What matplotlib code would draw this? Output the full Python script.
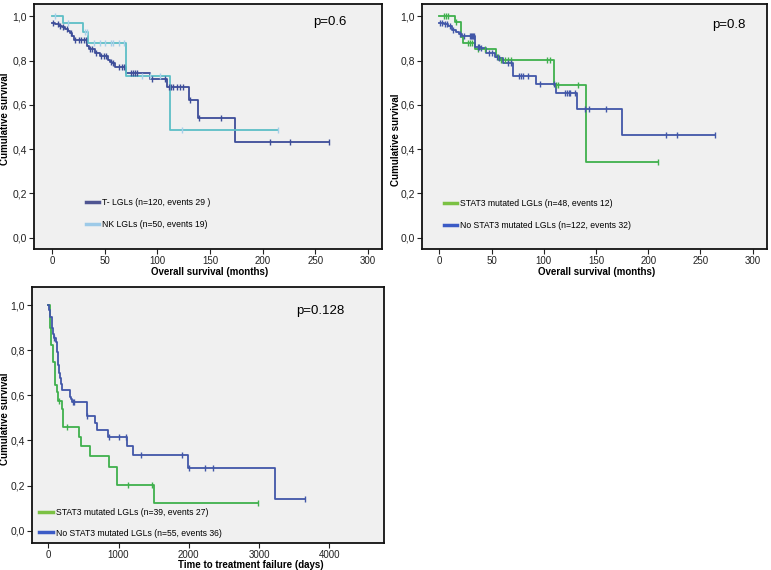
import numpy as np
import matplotlib
matplotlib.use("Agg")
import matplotlib.pyplot as plt
from matplotlib.lines import Line2D

plt.rcParams['font.family'] = ['Liberation Sans', 'DejaVu Sans']

# ─── DATA ─────────────────────────────────────────────────────────────────
# Panel A: overall survival, T- vs NK LGLs (months)
t_lgl_times = [3, 6, 9, 12, 15, 17, 19, 21, 33, 35, 41, 45, 53, 55, 57, 60, 70, 93, 109, 130, 139, 174]
t_lgl_surv = [0.964, 0.958, 0.952, 0.945, 0.935, 0.925, 0.910, 0.893, 0.865, 0.852, 0.836, 0.821,
              0.805, 0.795, 0.788, 0.770, 0.746, 0.718, 0.682, 0.620, 0.543, 0.434]
t_lgl_start = 0.970
t_lgl_end = 263
t_lgl_cens = [1, 5, 7, 10, 14, 18, 22, 25, 27, 30, 32, 36, 38, 42, 46, 49, 51, 56, 58, 63, 66, 68,
              75, 77, 79, 81, 95, 107, 111, 113, 115, 119, 121, 124, 131, 140, 160, 207, 226, 263]

nk_times = [10.5, 29, 34, 70, 112]
nk_surv = [0.970, 0.928, 0.881, 0.732, 0.488]
nk_start = 1.0
nk_end = 215
nk_cens = [3, 15, 31, 33, 40, 45, 50, 56, 58, 63, 68, 85, 93, 102, 123, 215]

# Panel B: overall survival by STAT3 status (months)
b_mut_times = [15, 21, 23, 34, 54, 57, 110, 140]
b_mut_surv = [0.976, 0.905, 0.882, 0.852, 0.815, 0.801, 0.688, 0.343]
b_mut_start = 1.0
b_mut_end = 209
b_mut_cens = [4, 6.5, 8.5, 16, 27, 29, 31.5, 37, 44, 56.5, 59, 63, 65.5, 69, 103, 106, 112, 114, 133, 209]

b_wt_times = [4, 8, 12, 16, 19, 22, 34, 40, 45, 53, 56, 61, 71, 93, 112, 131.5, 174.5]
b_wt_surv = [0.965, 0.958, 0.940, 0.930, 0.922, 0.910, 0.863, 0.855, 0.833, 0.818, 0.810, 0.788,
             0.732, 0.695, 0.652, 0.580, 0.464]
b_wt_start = 0.972
b_wt_end = 264
b_wt_cens = [1, 3, 5, 7, 10, 13, 20, 24, 29, 30, 31, 32, 33, 37, 38, 40, 48, 50, 55, 57, 66, 69,
             76, 78, 80, 85, 96, 110, 120, 122, 124, 125, 130, 139, 143.5, 160, 217, 227.5, 264]

# Panel C: time to treatment failure by STAT3 status (days)
c_mut_times = [20, 30, 40, 62, 71, 90, 100, 128, 142, 190, 204, 213, 437, 460, 593, 870, 985, 1509, 2240]
c_mut_surv = [0.950, 0.900, 0.823, 0.793, 0.749, 0.700, 0.645, 0.613, 0.575, 0.539, 0.500,
              0.458, 0.417, 0.375, 0.330, 0.284, 0.202, 0.124, 0.124]
c_mut_start = 1.0
c_mut_end = 2980
c_mut_cens = [155, 270, 1140, 1470, 2980]

c_wt_times = [15, 24, 47, 60, 71, 85, 109, 128, 142, 155, 166, 176, 190, 308, 318, 342, 555, 664,
              688, 854, 1115, 1200, 1983, 3227]
c_wt_surv = [0.980, 0.948, 0.897, 0.880, 0.870, 0.855, 0.837, 0.793, 0.734, 0.700, 0.675, 0.650,
             0.623, 0.594, 0.582, 0.569, 0.508, 0.476, 0.446, 0.415, 0.375, 0.335, 0.276, 0.139]
c_wt_start = 1.0
c_wt_end = 3654
c_wt_cens = [85, 346, 365, 555, 868, 1011, 1105, 1319, 1898, 2002, 2230, 2339, 3654]

y_ticks = [0.0, 0.2, 0.4, 0.6, 0.8, 1.0]
y_ticklabels = ["0,0", "0,2", "0,4", "0,6", "0,8", "1,0"]

# ─── COLOURS ──────────────────────────────────────────────────────────────
DARK = '#3d4d99'
TEAL = '#5dbfc6'
NK_CENS = '#a6cfe9'
GREEN = '#3fb04d'
BLUE = '#4257a8'
BG = '#f0f0f0'

W, H = 771, 570
fig = plt.figure(figsize=(W / 100, H / 100), dpi=100)


def add_ax(left, top, right, bottom):
    # pixel box -> figure fraction
    return fig.add_axes([left / W, 1 - bottom / H, (right - left) / W, (bottom - top) / H])


def km(ax, times, surv, start, end, cens, color, cens_color=None):
    x = np.array([0] + list(times) + [end], dtype=float)
    y = np.array([start] + list(surv) + [surv[-1]], dtype=float)
    ax.step(x, y, where='post', color=color, lw=1.3, zorder=3)
    ct = np.array(cens, dtype=float)
    idx = np.searchsorted(x, ct, side='right') - 1
    ax.plot(ct, y[np.clip(idx, 0, len(y) - 1)], ls='none', marker='|', ms=5, mew=1.0,
            color=cens_color or color, zorder=4)


def style(ax, xlim, ylim, xticks, xlabel, xl_pos, yl_pos, ptext, p_pos):
    ax.set_facecolor(BG)
    ax.set_xlim(*xlim)
    ax.set_ylim(*ylim)
    ax.set_xticks(xticks)
    ax.set_xticklabels([str(v) for v in xticks])
    ax.set_yticks(y_ticks)
    ax.set_yticklabels(y_ticklabels)
    ax.tick_params(direction='out', length=3.5, width=0.8, labelsize=7, pad=1.5, colors='#222222')
    ax.tick_params(axis='y', labelsize=7.5)
    for s in ax.spines.values():
        s.set_linewidth(1.3)
        s.set_color('#111111')
    ax.set_xlabel(xlabel, fontsize=7, fontweight='bold')
    ax.xaxis.set_label_coords(*xl_pos)
    ax.set_ylabel("Cumulative survival", fontsize=7, fontweight='bold')
    ax.yaxis.set_label_coords(*yl_pos)
    ax.text(p_pos[0], p_pos[1], ptext, transform=ax.transAxes, fontsize=9.5, ha='left', va='center')


def legend(ax, labels, colors, loc, spacing, hlen=1.5):
    handles = [Line2D([0], [0], color=c, lw=2.5) for c in colors]
    ax.legend(handles, labels, loc='lower left', bbox_to_anchor=loc, frameon=False, fontsize=6.2,
              handlelength=hlen, handletextpad=0.3, labelspacing=spacing, borderaxespad=0)


# ─── PANEL A ─────────────────────────────────────────────────────────────
ax1 = add_ax(34, 4, 382, 249)
km(ax1, t_lgl_times, t_lgl_surv, t_lgl_start, t_lgl_end, t_lgl_cens, DARK)
km(ax1, nk_times, nk_surv, nk_start, nk_end, nk_cens, TEAL, NK_CENS)
style(ax1, (-17.4, 313.6), (-0.051, 1.056), [0, 50, 100, 150, 200, 250, 300],
      "Overall survival (months)", (0.504, -0.074), (-0.068, 0.53), "p=0.6", (0.802, 0.925))
legend(ax1, ["T- LGLs (n=120, events 29 )", "NK LGLs (n=50, events 19)"], ['#4f5592', '#9dcae8'],
       (0.14, 0.068), 1.45)

# ─── PANEL B ─────────────────────────────────────────────────────────────
ax2 = add_ax(422, 4, 767, 249)
km(ax2, b_mut_times, b_mut_surv, b_mut_start, b_mut_end, b_mut_cens, GREEN)
km(ax2, b_wt_times, b_wt_surv, b_wt_start, b_wt_end, b_wt_cens, BLUE)
style(ax2, (-16.6, 313.7), (-0.051, 1.056), [0, 50, 100, 150, 200, 250, 300],
      "Overall survival (months)", (0.506, -0.074), (-0.062, 0.445), "p=0.8", (0.84, 0.915))
legend(ax2, ["STAT3 mutated LGLs (n=48, events 12)", "No STAT3 mutated LGLs (n=122, events 32)"],
       ['#7bc143', '#3b5bc6'], (0.055, 0.064), 1.45)

# ─── PANEL C ─────────────────────────────────────────────────────────────
ax3 = add_ax(32, 287, 384, 543)
km(ax3, c_mut_times, c_mut_surv, c_mut_start, c_mut_end, c_mut_cens, GREEN)
km(ax3, c_wt_times, c_wt_surv, c_wt_start, c_wt_end, c_wt_cens, BLUE)
style(ax3, (-232, 4779), (-0.0545, 1.0798), [0, 1000, 2000, 3000, 4000],
      "Time to treatment failure (days)", (0.622, -0.066), (-0.062, 0.484), "p=0.128", (0.75, 0.905))
legend(ax3, ["STAT3 mutated LGLs (n=39, events 27)", "No STAT3 mutated LGLs (n=55, events 36)"],
       ['#7bc143', '#3b5bc6'], (0.011, 0.008), 1.3, hlen=1.6)

fig.savefig("out.png", dpi=100)
